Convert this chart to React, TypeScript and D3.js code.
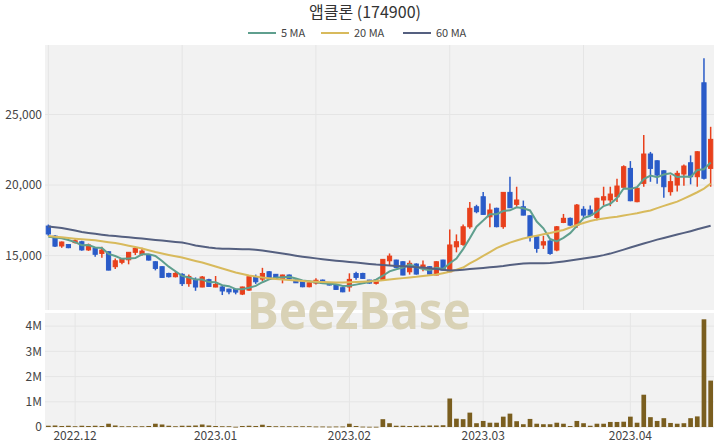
import React from "react";
import * as d3 from "d3";

const TITLE = "앱클론 (174900)";

const OPEN = [17090,16380,15680,15780,15920,15980,15400,15510,15150,15270,14210,14520,14700,15230,15090,15040,14560,14210,13730,13500,13670,13010,13240,12770,13290,12770,12770,12620,12600,12270,12550,13500,13330,13850,13670,13360,13620,13260,13140,12790,13050,13260,13070,12910,12720,12770,13730,13730,13260,13030,13310,14630,14680,14560,13850,14400,14100,14210,13620,14680,13850,15620,15790,17040,18460,19170,17750,18350,17050,19480,18630,18460,17820,16330,15750,16030,15390,17350,17640,17160,18280,18230,17700,18940,18940,19170,19840,21180,18820,20120,22200,21720,21010,19530,20000,20780,21580,20590,27250,21180];
const HIGH = [17200,16450,16000,15800,16150,16050,15850,15550,15620,15300,14800,14800,15250,15620,15550,15100,14600,14250,13780,13900,13750,13650,13450,13550,13350,13550,12850,12650,12650,12800,13520,13650,14130,13900,13700,13650,13650,13300,13200,13200,13400,13300,13100,12950,12750,13740,13850,13780,13280,13300,14750,15150,14700,14600,14650,14450,14650,14250,14600,14700,16850,16500,17200,18800,18600,19500,18700,18400,19500,20590,19880,18900,17850,16350,16400,16100,17100,17950,17700,18650,18500,18550,19100,19880,19880,20450,21400,21700,19800,23550,22350,21750,21050,20700,21020,21450,22100,22400,28990,24130];
const LOW = [16390,15600,15550,15520,15850,15350,15330,14920,14850,13950,14050,14380,14380,15040,14980,14650,13950,13420,13450,13450,12850,12780,12500,12750,12780,12750,12200,12250,12250,12200,12500,12990,13200,13380,13330,13030,13330,13050,12750,12750,12950,13000,12880,12580,12400,12440,13280,13350,13000,12950,13300,14320,14150,13600,13650,13650,13880,13650,13600,13950,13830,15230,15700,16900,18000,17900,17000,17000,16900,18380,18460,17850,16000,15200,15470,15050,15300,17300,17100,16950,17650,17800,17500,18580,18500,18800,19800,18850,18780,19880,20230,20100,19100,19250,19550,19950,20050,19880,20400,19880];
const CLOSE = [16530,15670,15960,15560,16050,15400,15750,15090,15390,13970,14630,14750,15230,15510,15320,14680,14090,13450,13500,13730,13010,13520,12770,13480,12810,12950,12490,12430,12410,12770,13500,13140,13730,13430,13360,13620,13360,13070,12790,13070,13250,13030,12910,12600,12430,13310,13450,13380,13050,13260,14730,14960,14160,13620,14450,13690,14330,13690,14560,13970,15750,15980,17040,18350,18110,17920,18230,17050,19480,18390,18940,17870,16330,15510,15980,15150,17040,17640,17160,18580,17870,17870,19060,19170,19360,19930,21300,18890,19770,22200,21180,20710,19880,20240,20830,21350,20590,22360,20480,23240];
const VOLUME = [50000,60000,40000,50000,30000,50000,40000,50000,40000,130000,60000,30000,30000,30000,30000,40000,130000,100000,50000,30000,50000,50000,60000,100000,60000,40000,30000,30000,10000,40000,50000,40000,90000,40000,30000,30000,30000,30000,30000,30000,20000,20000,15000,20000,20000,130000,40000,15000,10000,10000,310000,150000,50000,50000,40000,50000,50000,60000,60000,70000,1130000,330000,310000,570000,150000,240000,170000,170000,410000,530000,230000,110000,320000,130000,110000,110000,170000,130000,40000,240000,150000,50000,130000,130000,200000,200000,210000,410000,170000,1280000,390000,240000,350000,160000,130000,150000,350000,420000,4270000,1840000];
const MA5 = [16330,16280,16220,16100,15950,15730,15740,15570,15540,15120,14970,14770,14790,14820,15090,15100,14970,14610,14210,13890,13560,13440,13310,13300,13120,13110,12900,12830,12620,12610,12720,12850,13110,13310,13430,13460,13500,13370,13240,13180,13110,13040,13010,12970,12840,12860,12940,13030,13120,13290,13570,13880,14030,14150,14380,14180,14050,13960,14140,14050,14460,14790,15460,16220,17050,17480,17930,17930,18160,18210,18420,18350,18200,17410,16930,16170,16000,16260,16590,17110,17660,17820,18110,18510,18670,19080,19760,19730,19850,20420,20670,20550,20750,20840,20570,20600,20580,21070,21120,21600];
const MA20 = [16380,16330,16290,16240,16200,16160,16120,16080,16010,15950,15890,15800,15700,15600,15500,15380,15250,15140,15040,14950,14860,14740,14620,14510,14370,14220,14080,13940,13800,13690,13580,13510,13440,13390,13330,13300,13260,13230,13190,13160,13140,13120,13110,13090,13090,13100,13120,13150,13180,13200,13250,13300,13350,13400,13450,13490,13550,13600,13650,13750,13850,14000,14150,14440,14700,14970,15250,15530,15730,15920,16070,16210,16310,16410,16510,16600,16710,16810,16990,17170,17310,17450,17550,17630,17700,17760,17840,17920,18000,18100,18200,18360,18520,18670,18820,19040,19260,19490,19750,20100];
const MA60 = [17060,17000,16950,16860,16770,16670,16600,16540,16480,16420,16380,16340,16290,16250,16210,16160,16110,16060,16010,15970,15920,15830,15720,15640,15570,15520,15490,15480,15460,15450,15440,15410,15360,15290,15220,15140,15070,14990,14920,14860,14800,14740,14680,14630,14590,14550,14510,14460,14410,14360,14330,14290,14260,14240,14210,14180,14150,14100,14050,13990,13940,13960,13990,14040,14080,14120,14170,14210,14260,14330,14380,14430,14450,14460,14460,14470,14520,14580,14650,14720,14790,14860,14940,15030,15140,15280,15420,15570,15710,15850,15990,16130,16250,16370,16490,16610,16730,16860,16990,17120];

const PRICE_TICKS = [15000, 20000, 25000];
const VOLUME_TICKS = [0, 1000000, 2000000, 3000000, 4000000];
const VOLUME_TICK_LABELS = ["0", "1M", "2M", "3M", "4M"];
const MONTH_TICK_INDEX = [4, 25, 45, 65, 87];
const MONTH_TICK_LABELS = ["2022.12", "2023.01", "2023.02", "2023.03", "2023.04"];
const PRICE_GRID_INDEX = [0, 20, 40, 60, 80];
const LEGEND = [
  { label: "5 MA", color: "#5f9f8e" },
  { label: "20 MA", color: "#d8ba5c" },
  { label: "60 MA", color: "#556080" },
];

const UP = "#e8401c";
const DOWN = "#2a5bc8";
const VOL = "#7a5e1f";
const BG = "#f2f2f2";
const GRID = "#e5e5e5";
const FONT = "'Noto Sans CJK KR', 'Noto Sans', sans-serif";

export default function App() {
  const L = 45, R = 714;
  const PT = 45, PB = 310, VT = 313, VB = 427;
  const n = CLOSE.length;
  const x = d3.scaleLinear().domain([-0.5, n - 0.5]).range([L, R]);
  const y = d3.scaleLinear().domain([11140, 29930]).range([PB, PT]);
  const vy = d3.scaleLinear().domain([0, 4520000]).range([VB, VT]);
  const step = x(1) - x(0);
  const bw = 4.2;
  const vbw = step * 0.7;
  const idx = d3.range(n);
  const maLine = (arr: number[]) =>
    d3.line<number>().x((_, i) => x(i)).y((v) => y(v))(arr) || "";
  const mas = [MA5, MA20, MA60];

  return (
    <svg width={720} height={448} style={{ position: "absolute", left: 0, top: 0, background: "#fff" }} fontFamily={FONT}>
      <rect x={L} y={PT} width={R - L} height={PB - PT} fill={BG} />
      <rect x={L} y={VT} width={R - L} height={VB - VT} fill={BG} />
      {PRICE_TICKS.map((t) => (
        <line key={"pg" + t} x1={L} x2={R} y1={y(t)} y2={y(t)} stroke={GRID} strokeWidth={1} />
      ))}
      {PRICE_GRID_INDEX.map((i) => (
        <line key={"pv" + i} x1={x(i)} x2={x(i)} y1={PT} y2={PB} stroke={GRID} strokeWidth={1} />
      ))}
      {VOLUME_TICKS.map((t) => (
        <line key={"vg" + t} x1={L} x2={R} y1={vy(t)} y2={vy(t)} stroke={GRID} strokeWidth={1} />
      ))}
      {MONTH_TICK_INDEX.map((i) => (
        <line key={"vv" + i} x1={x(i)} x2={x(i)} y1={VT} y2={VB} stroke={GRID} strokeWidth={1} />
      ))}
      <text x={359} y={329} textAnchor="middle" fontSize={52} fontWeight={700}
        fill="#d9d2b6" textLength={224} lengthAdjust="spacingAndGlyphs"
        fontFamily="'Noto Sans', sans-serif">BeezBase</text>
      {idx.map((i) => (
        <rect key={"v" + i} x={x(i) - vbw / 2} y={vy(VOLUME[i])} width={vbw}
          height={Math.max(0.8, VB - vy(VOLUME[i]))} fill={VOL} />
      ))}
      {idx.map((i) => {
        const up = CLOSE[i] >= OPEN[i];
        const c = up ? UP : DOWN;
        const top = y(Math.max(OPEN[i], CLOSE[i]));
        const bot = y(Math.min(OPEN[i], CLOSE[i]));
        return (
          <g key={"c" + i}>
            <line x1={x(i)} x2={x(i)} y1={y(HIGH[i])} y2={y(LOW[i])} stroke={c} strokeWidth={1.5} />
            <rect x={x(i) - bw / 2} y={top} width={bw} height={Math.max(1, bot - top)}
              fill={c} stroke={c} strokeWidth={1} />
          </g>
        );
      })}
      {mas.map((arr, k) => (
        <path key={"ma" + k} d={maLine(arr)} fill="none" stroke={LEGEND[k].color} strokeWidth={2} />
      ))}
      {PRICE_TICKS.map((t) => (
        <text key={"pt" + t} x={42} y={y(t)} dy="0.35em" textAnchor="end" fontSize={12} fill="#444">
          {d3.format(",")(t)}
        </text>
      ))}
      {VOLUME_TICKS.map((t, k) => (
        <text key={"vt" + t} x={42} y={vy(t)} dy="0.35em" textAnchor="end" fontSize={12} fill="#444">
          {VOLUME_TICK_LABELS[k]}
        </text>
      ))}
      {MONTH_TICK_INDEX.map((i, k) => (
        <text key={"xt" + i} x={x(i)} y={440} textAnchor="middle" fontSize={12} fill="#444">
          {MONTH_TICK_LABELS[k]}
        </text>
      ))}
      <text x={365} y={18} textAnchor="middle" fontSize={16} fill="#333">{TITLE}</text>
      {LEGEND.map((d, k) => {
        const starts = [248, 321, 403];
        const sx = starts[k];
        return (
          <g key={"lg" + k}>
            <line x1={sx} x2={sx + 28} y1={33} y2={33} stroke={d.color} strokeWidth={2} />
            <text x={sx + 33} y={33} dy="0.35em" fontSize={11} fill="#444">{d.label}</text>
          </g>
        );
      })}
    </svg>
  );
}
